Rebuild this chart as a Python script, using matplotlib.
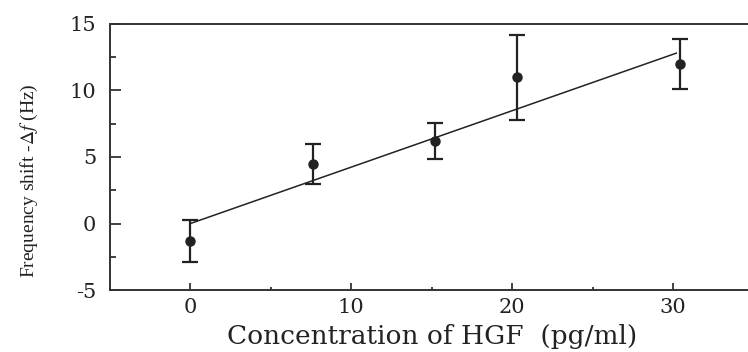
import matplotlib
matplotlib.use("Agg")
import matplotlib.pyplot as plt
import numpy as np
from matplotlib.ticker import MultipleLocator

# data
conc = [0.0, 7.6, 15.2, 20.3, 30.4]
shift = [-1.3, 4.5, 6.2, 11.0, 12.0]
err = [1.6, 1.5, 1.35, 3.2, 1.9]
fit_slope = 0.424
fit_intercept = 0.0
fit_range = [0.0, 30.2]

xticks = [0, 10, 20, 30]
yticks = [-5, 0, 5, 10, 15]

plt.rcParams["mathtext.fontset"] = "stix"
plt.rcParams["axes.unicode_minus"] = False
ink = "#222222"

fig = plt.figure(figsize=(7.48, 3.52), dpi=100)
ax = fig.add_axes([0.147, 0.176, 1.0074 - 0.147, 0.932 - 0.176])

fx = np.array(fit_range)
ax.plot(fx, fit_slope * fx + fit_intercept, color=ink, lw=1.1)
ax.errorbar(conc, shift, yerr=err, fmt="o", color=ink, ms=6.5, elinewidth=1.6,
            capsize=6, capthick=1.6)

ax.set_xlim(-5, 35)
ax.set_ylim(-5, 15)
ax.set_xticks(xticks)
ax.set_yticks(yticks)
ax.xaxis.set_minor_locator(MultipleLocator(5))
ax.yaxis.set_minor_locator(MultipleLocator(2.5))

for s in ax.spines.values():
    s.set_linewidth(1.4)
    s.set_color("#333333")

ax.tick_params(axis="x", which="major", direction="in", length=5, width=1.2, pad=6, colors=ink)
ax.tick_params(axis="x", which="minor", direction="in", length=2.5, width=1.2, colors=ink)
ax.tick_params(axis="y", which="major", direction="in", length=8, width=1.2, pad=10, colors=ink)
ax.tick_params(axis="y", which="minor", direction="in", length=4, width=1.2, colors=ink)
for lab in ax.get_xticklabels() + ax.get_yticklabels():
    lab.set_family("DejaVu Serif")
    lab.set_fontsize(15)

ax.set_xlabel("Concentration of HGF  (pg/ml)", family="DejaVu Serif", fontsize=19,
              color=ink, labelpad=5)
ax.set_ylabel(r"Frequency shift -$\Delta f$ (Hz)", family="Liberation Serif", fontsize=14,
              color=ink)
ax.yaxis.set_label_coords(-0.109, 0.41)

fig.savefig("out.png", dpi=100)
